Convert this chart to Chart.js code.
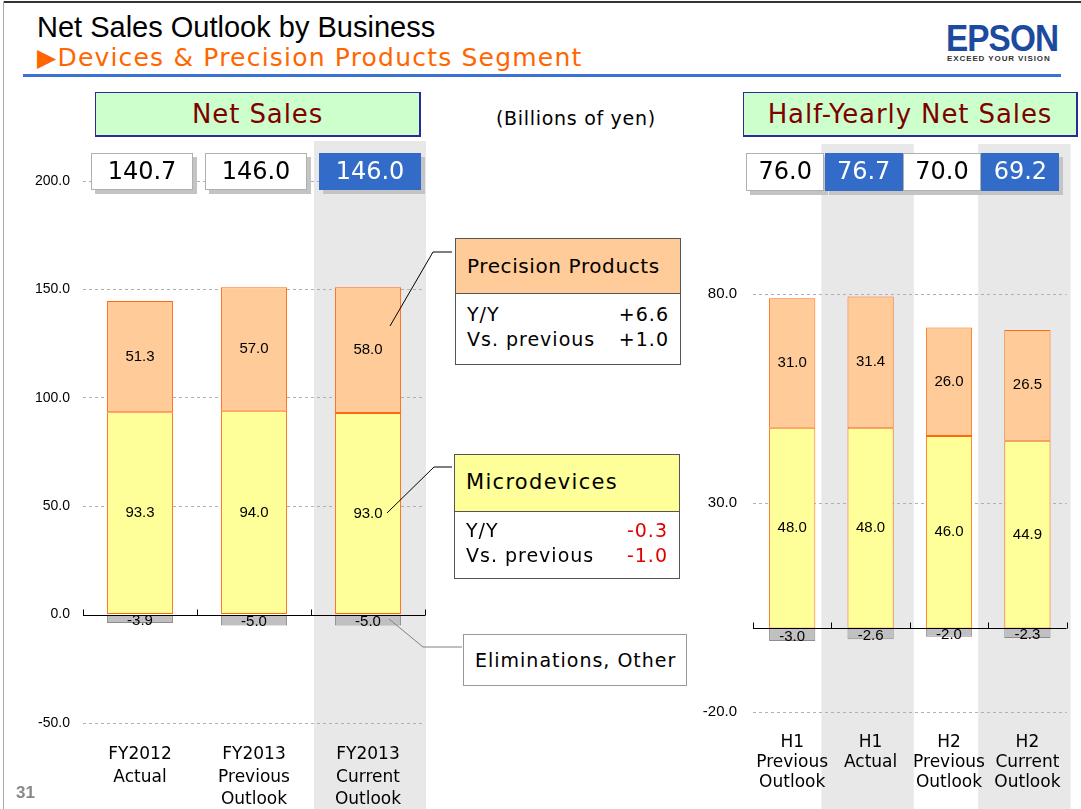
<!DOCTYPE html>
<html>
<head>
<meta charset="utf-8">
<script src="https://cdn.jsdelivr.net/npm/chart.js@4.4.0/dist/chart.umd.min.js"></script>
<style>
  body { margin: 0; background: #fff; }
  #slide { position: relative; width: 1081px; height: 809px; overflow: hidden; background: #fff; font-family: "DejaVu Sans", sans-serif; }
  .abs { position: absolute; }
  canvas { position: absolute; }
  .box-title { position: absolute; top: 92px; height: 45px; box-sizing: border-box; background: #ccffcc; border: 1px solid #2a2a9a; border-right-width: 2px; border-bottom-width: 2px; text-align: center; font-size: 26px; letter-spacing: 0.9px; line-height: 42px; color: #800000; }
  .callout { position: absolute; background: #fff; border: 1px solid #555; box-sizing: border-box; }
  .callout .head { height: 54px; border-bottom: 1px solid #555; font-size: 20px; letter-spacing: 0.6px; line-height: 54px; padding-left: 11px; }
  .callout .row { position: relative; height: 25px; font-size: 19px; letter-spacing: 1px; line-height: 25px; padding-left: 11px; }
  .callout .row span { position: absolute; right: 11px; }
</style>
</head>
<body>
<div id="slide">
  <!-- frame -->
  <div class="abs" style="left:3px;top:1px;width:1078px;height:2px;background:#333;"></div>
  <div class="abs" style="left:3px;top:1px;width:1px;height:808px;background:#aaa;"></div>

  <div class="abs" style="left:37px;top:11px;font-family:'Liberation Sans',sans-serif;font-size:29px;line-height:33px;color:#000;">Net Sales Outlook by Business</div>
  <div class="abs" style="left:37px;top:43px;font-size:25px;letter-spacing:1.2px;line-height:29px;color:#ff6600;">&#9654;Devices &amp; Precision Products Segment</div>
  <div class="abs" style="left:23px;top:74px;width:1038px;height:3px;background:#3a72d6;"></div>

  <!-- logo -->
  <div class="abs" style="left:946px;top:19px;font-family:'Liberation Sans',sans-serif;font-weight:bold;font-size:37px;line-height:40px;color:#1c4a9e;letter-spacing:-1px;transform:scaleX(0.9);transform-origin:left top;">EPSON</div>
  <div class="abs" style="left:947px;top:54px;font-family:'Liberation Sans',sans-serif;font-weight:bold;font-size:8px;letter-spacing:0.9px;line-height:9px;color:#333;">EXCEED YOUR VISION</div>

  <canvas id="fyChart" width="440" height="669" style="left:0;top:140px;"></canvas>
  <canvas id="halfChart" width="391" height="669" style="left:690px;top:140px;"></canvas>

  <!-- section headers -->
  <div class="box-title" style="left:95px;width:326px;">Net Sales</div>
  <div class="box-title" style="left:743px;width:335px;">Half-Yearly Net Sales</div>
  <div class="abs" style="left:496px;top:106px;font-size:19px;letter-spacing:0.7px;line-height:24px;color:#000;">(Billions of yen)</div>

  <!-- leader lines -->
  <svg class="abs" style="left:0;top:0;" width="1081" height="809">
    <polyline points="390,326 433,252 452,252" fill="none" stroke="#000" stroke-width="1"/>
    <polyline points="387,513 434,467 452,467" fill="none" stroke="#000" stroke-width="1"/>
    <polyline points="389,619 423,647 462,647" fill="none" stroke="#808080" stroke-width="1"/>
  </svg>

  <!-- callouts -->
  <div class="callout" style="left:455px;top:238px;width:226px;height:127px;">
    <div class="head" style="background:#ffcc99;">Precision Products</div>
    <div class="row" style="margin-top:8px;">Y/Y<span>+6.6</span></div>
    <div class="row">Vs. previous<span>+1.0</span></div>
  </div>
  <div class="callout" style="left:454px;top:454px;width:226px;height:125px;">
    <div class="head" style="background:#ffff99;height:56px;line-height:54px;font-size:21px;letter-spacing:1.3px;">Microdevices</div>
    <div class="row" style="margin-top:6px;">Y/Y<span style="color:#e00000;">-0.3</span></div>
    <div class="row">Vs. previous<span style="color:#e00000;">-1.0</span></div>
  </div>
  <div class="callout" style="left:463px;top:634px;width:224px;height:52px;border-color:#999;font-size:19px;letter-spacing:1px;line-height:50px;padding-left:11px;">Eliminations, Other</div>

  <div class="abs" style="left:16px;top:783px;font-family:'Liberation Sans',sans-serif;font-weight:bold;font-size:17px;line-height:20px;color:#888;">31</div>
</div>

<script>
"use strict";

// 年度別 (FY)
const fyLabels = [["FY2012", "Actual"], ["FY2013", "Previous", "Outlook"], ["FY2013", "Current", "Outlook"]];
const fyMicro = [93.3, 94.0, 93.0];
const fyPrecision = [51.3, 57.0, 58.0];
const fyElim = [-3.9, -5.0, -5.0];
const fyTotals = [140.7, 146.0, 146.0];
const fyTicks = [-50, 0, 50, 100, 150, 200];

// 半期別
const halfLabels = [["H1", "Previous", "Outlook"], ["H1", "Actual"], ["H2", "Previous", "Outlook"], ["H2", "Current", "Outlook"]];
const halfMicro = [48.0, 48.0, 46.0, 44.9];
const halfPrecision = [31.0, 31.4, 26.0, 26.5];
const halfElim = [-3.0, -2.6, -2.0, -2.3];
const halfTotals = [76.0, 76.7, 70.0, 69.2];
const halfTicks = [-20, 30, 80];

// 背景のグレー帯
const shadePlugin = {
  id: "shade",
  beforeDraw(chart, args, opts) {
    const { ctx, chartArea } = chart;
    const n = chart.data.labels.length;
    const w = (chartArea.right - chartArea.left) / n;
    ctx.save();
    ctx.fillStyle = "#e8e8e8";
    opts.indexes.forEach((i) => {
      const x0 = chartArea.left + i * w + opts.padL;
      const x1 = chartArea.left + (i + 1) * w + opts.padR;
      ctx.fillRect(x0, opts.top, x1 - x0, chart.height - opts.top);
    });
    ctx.restore();
  },
};

// 0の軸線と目盛
const zeroAxisPlugin = {
  id: "zeroAxis",
  afterDatasetsDraw(chart) {
    const { ctx, chartArea } = chart;
    const y0 = Math.round(chart.scales.y.getPixelForValue(0)) + 0.5;
    const n = chart.data.labels.length;
    const w = (chartArea.right - chartArea.left) / n;
    ctx.save();
    ctx.strokeStyle = "#000";
    ctx.lineWidth = 1;
    ctx.beginPath();
    ctx.moveTo(chartArea.left, y0);
    ctx.lineTo(chartArea.right, y0);
    for (let i = 0; i <= n; i++) {
      const x = Math.round(chartArea.left + i * w) + 0.5;
      ctx.moveTo(x, y0);
      ctx.lineTo(x, y0 - 6);
    }
    ctx.stroke();
    ctx.restore();
  },
};

// 棒の中の数値
const barLabelPlugin = {
  id: "barLabels",
  afterDatasetsDraw(chart, args, opts) {
    const ctx = chart.ctx;
    ctx.save();
    ctx.font = opts.font;
    ctx.fillStyle = "#000";
    ctx.textAlign = "center";
    ctx.textBaseline = "middle";
    chart.data.datasets.forEach((ds, i) => {
      const meta = chart.getDatasetMeta(i);
      meta.data.forEach((bar, j) => {
        const v = ds.data[j];
        const y = (bar.y + bar.base) / 2 + (v < 0 ? opts.negShift : 0);
        ctx.fillText(v.toFixed(1), bar.x, y);
      });
    });
    ctx.restore();
  },
};

// 上部の合計ボックス
const totalsPlugin = {
  id: "totals",
  afterDraw(chart, args, opts) {
    const ctx = chart.ctx;
    ctx.save();
    ctx.font = opts.font;
    ctx.textAlign = "center";
    ctx.textBaseline = "middle";
    opts.values.forEach((v, i) => {
      const cx = chart.scales.x.getPixelForValue(i) + opts.offset;
      const x = Math.round(cx - opts.width / 2);
      const hl = opts.highlight.includes(i);
      ctx.fillStyle = "#c4c4c4";
      ctx.fillRect(x + 4, opts.top + 4, opts.width, opts.height);
      ctx.fillStyle = hl ? "#336bc8" : "#fff";
      ctx.fillRect(x, opts.top, opts.width, opts.height);
      if (!hl) {
        ctx.strokeStyle = "#b0b0b0";
        ctx.lineWidth = 1;
        ctx.strokeRect(x + 0.5, opts.top + 0.5, opts.width - 1, opts.height - 1);
      }
      ctx.fillStyle = hl ? "#fff" : "#000";
      ctx.fillText(v.toFixed(1), cx, opts.top + opts.height / 2 + 1);
    });
    ctx.restore();
  },
};

function makeDatasets(micro, precision, elim, pct) {
  const common = { borderWidth: 1, borderSkipped: false, categoryPercentage: 1, barPercentage: pct };
  return [
    Object.assign({ label: "Microdevices", data: micro, backgroundColor: "#ffff99", borderColor: "#ff6a10" }, common),
    Object.assign({ label: "Precision Products", data: precision, backgroundColor: "#ffcc99", borderColor: "#ff6a10" }, common),
    Object.assign({ label: "Eliminations, Other", data: elim, backgroundColor: "#c0c0c0", borderColor: "#8c8c8c" }, common),
  ];
}

function StackChart(id, cfg) {
  const context = document.getElementById(id).getContext("2d");
  return new Chart(context, {
    type: "bar",
    data: {
      labels: cfg.labels,
      datasets: makeDatasets(cfg.micro, cfg.precision, cfg.elim, cfg.barPct),
    },
    options: {
      responsive: false,
      animation: false,
      devicePixelRatio: 1,
      layout: { padding: { top: cfg.padTop, right: cfg.padRight, left: 0, bottom: 0 } },
      plugins: {
        legend: { display: false },
        tooltip: { enabled: false },
        shade: cfg.shade,
        barLabels: { font: "15px 'Liberation Sans', sans-serif", negShift: 2 },
        totals: cfg.totals,
      },
      scales: {
        x: {
          stacked: true,
          afterFit: (s) => { s.height = cfg.xHeight; },
          grid: { display: false, drawTicks: false },
          border: { display: false },
          ticks: {
            padding: cfg.xPad,
            color: "#000",
            maxRotation: 0,
            autoSkip: false,
            font: { family: "'DejaVu Sans', sans-serif", size: 17, lineHeight: cfg.lineHeight },
          },
        },
        y: {
          stacked: true,
          min: cfg.ticks[0],
          max: cfg.ticks[cfg.ticks.length - 1],
          afterFit: (s) => { s.width = cfg.yWidth; },
          afterBuildTicks: (s) => { s.ticks = cfg.ticks.map((v) => ({ value: v })); },
          // 点線のグリッド
          border: { display: false, dash: [3, 3] },
          grid: {
            drawTicks: false,
            color: (c) => (c.tick && c.tick.value === 0 ? "rgba(0,0,0,0)" : "#b0b0b0"),
          },
          ticks: {
            padding: cfg.yPad,
            color: "#000",
            font: { family: "'Liberation Sans', sans-serif", size: cfg.yFont },
            callback: (v) => Number(v).toFixed(1),
          },
        },
      },
    },
    plugins: [shadePlugin, zeroAxisPlugin, barLabelPlugin, totalsPlugin],
  });
}

StackChart("fyChart", {
  labels: fyLabels, micro: fyMicro, precision: fyPrecision, elim: fyElim, ticks: fyTicks,
  barPct: 0.58, padTop: 41, padRight: 15, xHeight: 86, yWidth: 83, xPad: 21, lineHeight: 1.3, yPad: 13, yFont: 14,
  shade: { indexes: [2], padL: 3, padR: 1, top: 1 },
  totals: { values: fyTotals, highlight: [2], offset: 2, width: 102, height: 37, top: 13, font: "24px 'DejaVu Sans', sans-serif" },
});

StackChart("halfChart", {
  labels: halfLabels, micro: halfMicro, precision: halfPrecision, elim: halfElim, ticks: halfTicks,
  barPct: 0.59, padTop: 154, padRight: 4, xHeight: 97, yWidth: 63, xPad: 20, lineHeight: 1.2, yPad: 16, yFont: 15,
  shade: { indexes: [1, 3], padL: -10, padR: 4, top: 4 },
  totals: { values: halfTotals, highlight: [1, 3], offset: -7, width: 78, height: 38, top: 13, font: "24px 'DejaVu Sans', sans-serif" },
});
</script>
</body>
</html>
